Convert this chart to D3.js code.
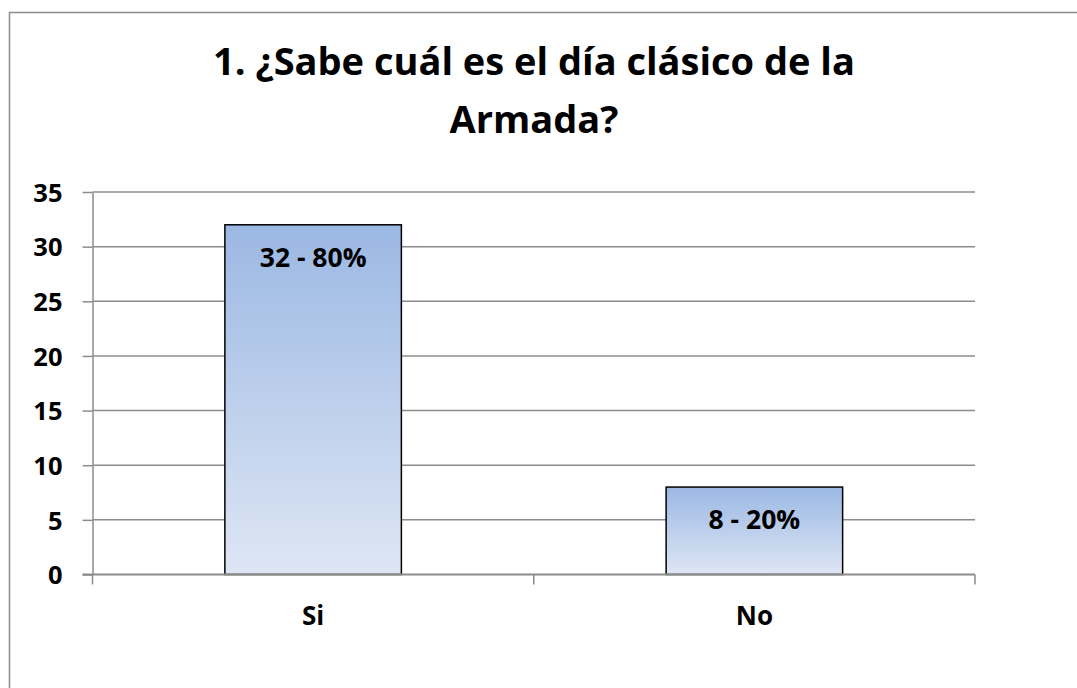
<!DOCTYPE html>
<html>
<head>
<meta charset="utf-8">
<script src="https://cdn.jsdelivr.net/npm/d3@7"></script>
<style>
  html, body { margin: 0; padding: 0; background: #fff; }
  svg { display: block; }
  text { font-family: "Open Sans", "Noto Sans", sans-serif; font-weight: bold; fill: #000; }
</style>
</head>
<body>
<svg id="chart" width="1077" height="688"></svg>
<script>
const titleLines = ["1. ¿Sabe cuál es el día clásico de la", "Armada?"];
const categories = ["Si", "No"];
const values = [32, 8];
const percents = ["80%", "20%"];
const yTicks = [0, 5, 10, 15, 20, 25, 30, 35];

const svg = d3.select("#chart");

// outer chart border (right/bottom run off the picture)
svg.append("rect")
  .attr("x", 9.5).attr("y", 12.5)
  .attr("width", 1100).attr("height", 720)
  .attr("fill", "#fff")
  .attr("stroke", "#8c8c8c").attr("stroke-width", 1.5);

const plot = { left: 92.5, right: 975, top: 192, bottom: 574.5 };

const x = d3.scaleBand().domain(categories).range([plot.left, plot.right]).paddingInner(0.6).paddingOuter(0.3);
const xOuter = d3.scaleBand().domain(categories).range([plot.left, plot.right]);
const y = d3.scaleLinear().domain([0, 35]).range([plot.bottom, plot.top]);

// gradient
const defs = svg.append("defs");
const grad = defs.append("linearGradient").attr("id", "barGrad")
  .attr("x1", 0).attr("y1", 0).attr("x2", 0).attr("y2", 1);
grad.append("stop").attr("offset", "0%").attr("stop-color", "#9bb8e3");
grad.append("stop").attr("offset", "100%").attr("stop-color", "#dee6f4");

// gridlines
svg.append("g").selectAll("line").data(yTicks.filter(d => d > 0)).join("line")
  .attr("x1", plot.left).attr("x2", plot.right)
  .attr("y1", d => y(d)).attr("y2", d => y(d))
  .attr("stroke", "#8c8c8c").attr("stroke-width", 1.5);

// y axis
const yAxis = svg.append("g").attr("transform", `translate(${plot.left},0)`)
  .call(d3.axisLeft(y).tickValues(yTicks).tickSize(10).tickPadding(20).tickSizeOuter(0));
yAxis.select(".domain").attr("stroke", "#8c8c8c").attr("stroke-width", 1.5);
yAxis.selectAll(".tick line").attr("stroke", "#8c8c8c").attr("stroke-width", 1.5);
yAxis.selectAll(".tick text")
  .attr("font-family", "Open Sans").attr("font-weight", "bold")
  .attr("font-size", 25.5).attr("fill", "#000").attr("dy", "0.36em");

// bars
svg.append("g").selectAll("rect").data(categories).join("rect")
  .attr("x", d => x(d)).attr("width", x.bandwidth())
  .attr("y", (d, i) => y(values[i]))
  .attr("height", (d, i) => y(0) - y(values[i]))
  .attr("fill", "url(#barGrad)")
  .attr("stroke", "#000").attr("stroke-width", 1.5);

// x axis
const xAxisG = svg.append("g").attr("transform", `translate(0,${plot.bottom})`);
xAxisG.append("line").attr("x1", plot.left - 10).attr("x2", plot.right)
  .attr("stroke", "#8c8c8c").attr("stroke-width", 2);
const boundaries = [plot.left, ...categories.map(c => xOuter(c) + xOuter.bandwidth())];
xAxisG.selectAll("line.tk").data(boundaries).join("line").attr("class", "tk")
  .attr("x1", d => d).attr("x2", d => d).attr("y1", 0).attr("y2", 10)
  .attr("stroke", "#8c8c8c").attr("stroke-width", 1.5);
xAxisG.selectAll("text").data(categories).join("text")
  .attr("x", d => x(d) + x.bandwidth() / 2).attr("y", 50)
  .attr("text-anchor", "middle").attr("font-size", 26)
  .text(d => d);

// data labels
svg.append("g").selectAll("text").data(categories).join("text")
  .attr("x", d => x(d) + x.bandwidth() / 2)
  .attr("y", (d, i) => y(values[i]) + 42)
  .attr("text-anchor", "middle").attr("font-size", 26.5)
  .text((d, i) => `${values[i]} - ${percents[i]}`);

// title
svg.append("g").selectAll("text").data(titleLines).join("text")
  .attr("x", 534).attr("y", (d, i) => 75 + i * 58)
  .attr("text-anchor", "middle").attr("font-size", 38)
  .text(d => d);
</script>
</body>
</html>
